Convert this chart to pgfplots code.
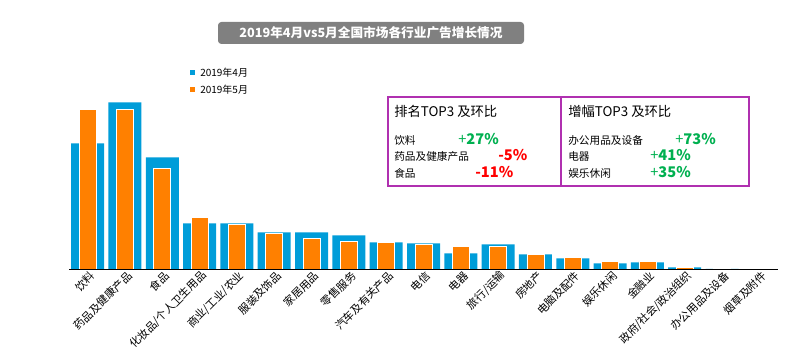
\documentclass[border=0pt]{standalone}
\usepackage{pgfplots}
\pgfplotsset{compat=1.18}
\usepackage{fontspec}
\setmainfont{Noto Sans CJK SC}
\definecolor{cblue}{RGB}{0,157,217}
\definecolor{corange}{RGB}{255,128,0}
\definecolor{cgreen}{RGB}{0,176,80}
\definecolor{cred}{RGB}{255,0,0}
\definecolor{cmag}{RGB}{176,48,176}
\definecolor{tgray}{RGB}{128,128,128}
\begin{document}
\begin{tikzpicture}[x=0.75pt,y=0.75pt]
\path[use as bounding box] (0,0) rectangle (812,363);
\begin{axis}[at={(51.75pt,70.3pt)}, anchor=south west, scale only axis,
  width=531.75pt, height=130.5pt,
  xmin=-0.5, xmax=18.5, ymin=0, ymax=174,
  axis y line=none, axis x line*=bottom,
  x axis line style={-, line width=0.9pt},
  axis on top,
  xtick={0,...,18}, major tick length=0pt,
  xticklabels={饮料,药品及健康产品,食品,化妆品/个人卫生用品,商业/工业/农业,服装及饰品,家居用品,零售服务,汽车及有关产品,电信,电器,旅行/运输,房地产,电脑及配件,娱乐休闲,金融业,政府/社会/政治组织,办公用品及设备,烟草及附件},
  x tick label style={rotate=45, anchor=east, font=\fontsize{8.2}{9}\selectfont, inner sep=1pt, yshift=-5pt, xshift=1.5pt},
  ybar, clip=false]
\addplot[fill=cblue, draw=none, bar width=24.75pt, bar shift=0pt] coordinates {
(0,126) (1,167) (2,112) (3,46) (4,46) (5,37) (6,37) (7,34) (8,27) (9,26)
(10,16) (11,25) (12,15) (13,11) (14,6) (15,7) (16,2) (17,0.4) (18,0.1)};
\addplot[fill=corange, draw=white, line width=0.6pt, bar width=12.75pt, bar shift=0pt] coordinates {
(0,160) (1,160) (2,100.6) (3,52) (4,45) (5,35.6) (6,30.6) (7,27.6) (8,27) (9,25)
(10,23) (11,23) (12,15) (13,12) (14,8) (15,8) (16,2) (17,0.7) (18,0.1)};
\end{axis}
% title
\fill[tgray, rounded corners=2.5pt] (218,341) rectangle (524,319);
\node[text=white, font=\fontsize{9.5}{11}\selectfont\bfseries] at (371,330) {2019年4月vs5月全国市场各行业广告增长情况};
% legend
\fill[cblue] (189.5,287.5) rectangle (194.5,292.5);
\node[anchor=west, font=\fontsize{7.5}{9}\selectfont, inner sep=0pt] at (200,290) {2019年4月};
\fill[corange] (189.5,270.5) rectangle (194.5,275.5);
\node[anchor=west, font=\fontsize{7.5}{9}\selectfont, inner sep=0pt] at (200,273) {2019年5月};
% box
\draw[cmag, line width=0.8pt] (388,266) rectangle (749,177);
\draw[cmag, line width=0.8pt] (561,266) -- (561,177);
\node[anchor=west, inner sep=0pt, font=\fontsize{10}{12}\selectfont] at (394,252) {排名TOP3 及环比};
\node[anchor=west, inner sep=0pt, font=\fontsize{10}{12}\selectfont] at (568,252) {增幅TOP3 及环比};
\begin{scope}[every node/.style={anchor=west, inner sep=0pt}]
\node[font=\fontsize{8}{10}\selectfont] at (394,223) {饮料};
\node[font=\fontsize{8}{10}\selectfont] at (394,207) {药品及健康产品};
\node[font=\fontsize{8}{10}\selectfont] at (394,190) {食品};
\node[text=cgreen, font=\fontsize{11}{13}\selectfont] at (458,224) {+\textbf{27\%}};
\node[text=cred, font=\fontsize{11}{13}\selectfont\bfseries] at (498,208) {-5\%};
\node[text=cred, font=\fontsize{11}{13}\selectfont\bfseries] at (475,191) {-11\%};
\node[font=\fontsize{8}{10}\selectfont] at (568,223) {办公用品及设备};
\node[font=\fontsize{8}{10}\selectfont] at (568,207) {电器};
\node[font=\fontsize{8}{10}\selectfont] at (568,190) {娱乐休闲};
\node[text=cgreen, font=\fontsize{11}{13}\selectfont] at (675,224) {+\textbf{73\%}};
\node[text=cgreen, font=\fontsize{11}{13}\selectfont] at (650,208) {+\textbf{41\%}};
\node[text=cgreen, font=\fontsize{11}{13}\selectfont] at (650,191) {+\textbf{35\%}};
\end{scope}
\end{tikzpicture}
\end{document}
